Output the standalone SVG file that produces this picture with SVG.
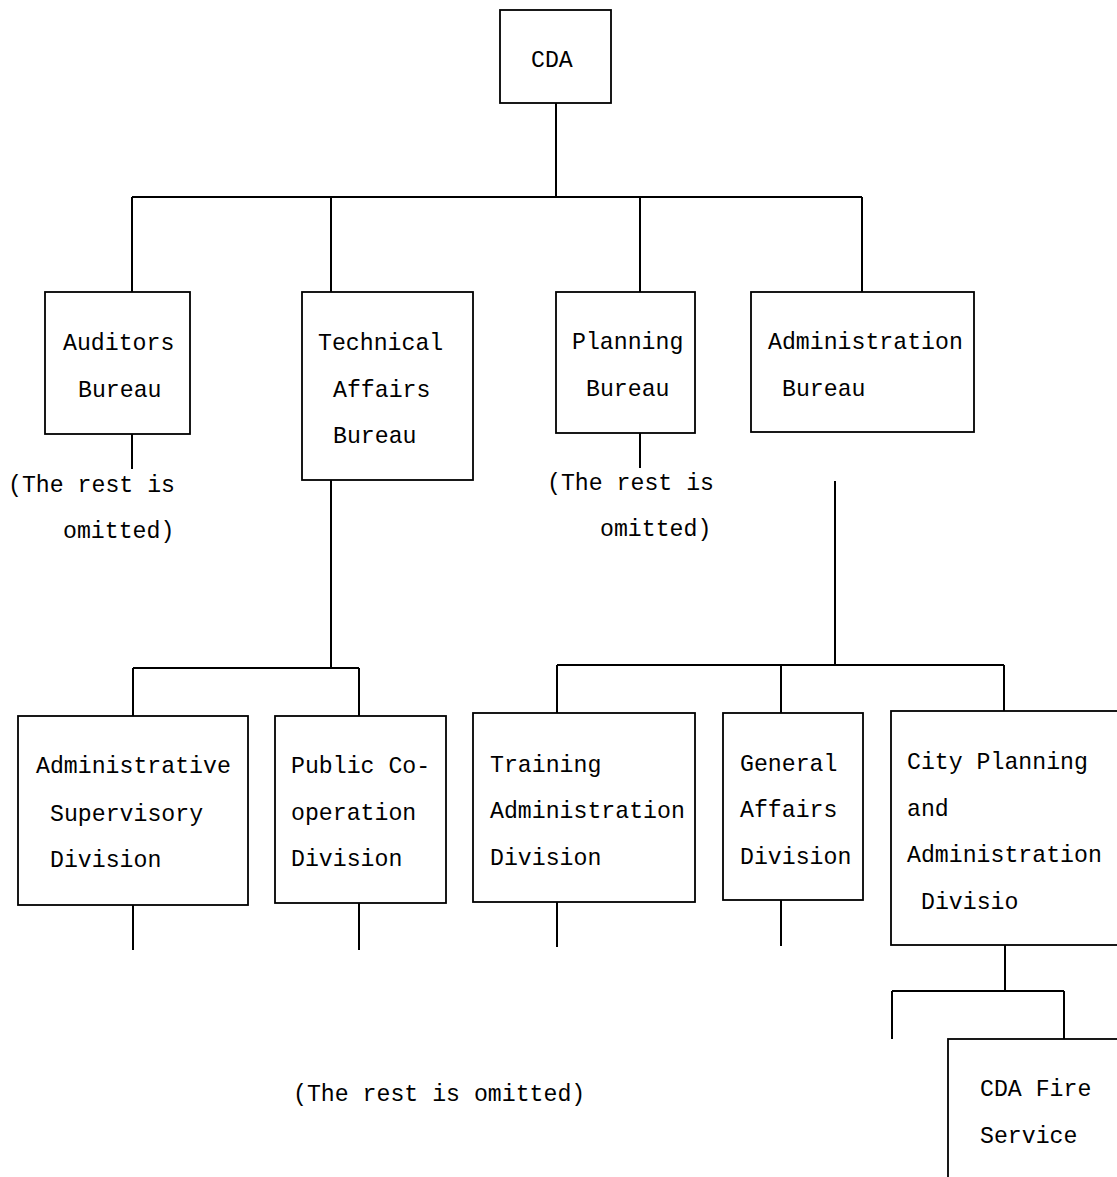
<svg xmlns="http://www.w3.org/2000/svg" width="1117" height="1177" viewBox="0 0 1117 1177">
<style>
.box{fill:#fff;stroke:#000;stroke-width:1.8}
.ln{stroke:#000;stroke-width:2;fill:none}
text{font-family:"Liberation Mono","DejaVu Sans Mono",monospace;font-size:23.2px;fill:#000}
</style>
<rect x="0" y="0" width="1117" height="1177" fill="#fff"/>
<g id="connectors">
<path class="ln" d="M556 103V197M132 197H862M132 197V292M331 197V292M640 197V292M862 197V292"/>
<path class="ln" d="M132 434V469M640 433V468"/>
<path class="ln" d="M331 480V668M133 668H359M133 668V716M359 668V716"/>
<path class="ln" d="M835 481V665M557 665H1004M557 665V713M781 665V713M1004 665V711"/>
<path class="ln" d="M133 905V950M359 903V950M557 902V947M781 900V946"/>
<path class="ln" d="M1005 945V991M892 991H1064M892 991V1039M1064 991V1039"/>
</g>
<g id="cda"><rect class="box" x="500" y="10" width="111" height="93"/><text x="531" y="67">CDA</text></g>
<g id="auditors"><rect class="box" x="45" y="292" width="145" height="142"/><text x="63" y="350">Auditors</text><text x="78" y="397">Bureau</text></g>
<g id="auditors-note"><text x="8" y="492">(The rest is</text><text x="63" y="538">omitted)</text></g>
<g id="technical"><rect class="box" x="302" y="292" width="171" height="188"/><text x="318" y="350">Technical</text><text x="333" y="397">Affairs</text><text x="333" y="443">Bureau</text></g>
<g id="planning"><rect class="box" x="556" y="292" width="139" height="141"/><text x="572" y="349">Planning</text><text x="586" y="396">Bureau</text></g>
<g id="planning-note"><text x="547" y="490">(The rest is</text><text x="600" y="536">omitted)</text></g>
<g id="administration"><rect class="box" x="751" y="292" width="223" height="140"/><text x="768" y="349">Administration</text><text x="782" y="396">Bureau</text></g>
<g id="adm-supervisory"><rect class="box" x="18" y="716" width="230" height="189"/><text x="36" y="773">Administrative</text><text x="50" y="821">Supervisory</text><text x="50" y="867">Division</text></g>
<g id="public-coop"><rect class="box" x="275" y="716" width="171" height="187"/><text x="291" y="773">Public Co-</text><text x="291" y="820">operation</text><text x="291" y="866">Division</text></g>
<g id="training"><rect class="box" x="473" y="713" width="222" height="189"/><text x="490" y="772">Training</text><text x="490" y="818">Administration</text><text x="490" y="865">Division</text></g>
<g id="general"><rect class="box" x="723" y="713" width="140" height="187"/><text x="740" y="771">General</text><text x="740" y="817">Affairs</text><text x="740" y="864">Division</text></g>
<g id="city-planning"><rect class="box" x="891" y="711" width="240" height="234"/><text x="907" y="769">City Planning</text><text x="907" y="816">and</text><text x="907" y="862">Administration</text><text x="921" y="909">Divisio</text></g>
<g id="fire-service"><rect class="box" x="948" y="1039" width="190" height="160"/><text x="980" y="1096">CDA Fire</text><text x="980" y="1143">Service</text></g>
<g id="bottom-note"><text x="293" y="1101">(The rest is omitted)</text></g>
</svg>
